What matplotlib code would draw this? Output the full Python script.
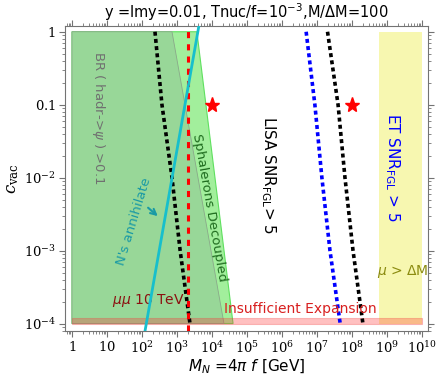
import matplotlib
matplotlib.use("Agg")
import matplotlib.pyplot as plt
from matplotlib.ticker import LogLocator, NullFormatter

# --- data ---
# excluded regions (corners in M_N [GeV], c_vac)
hadr_M = [1, 720, 2.2e4, 1]
hadr_c = [1, 1, 1e-4, 1e-4]
sphal_M = [1, 3700, 4.0e4, 1]
sphal_c = [1, 1, 1e-4, 1e-4]
et_M = [5.9e8, 1e10]
et_c = [1e-4, 1]
insuff_M = [1, 1e10]
insuff_c = [1e-4, 1.2e-4]

# curves
curve_c = [1, 0.1, 0.01, 1e-3, 1e-4]
lisa_black_M = [235, 372, 720, 1230, 2350]
lisa_blue_M = [4.9e6, 8.7e6, 1.38e7, 2.35e7, 4.6e7]
et_black_M = [2.0e7, 4.0e7, 6.3e7, 1.07e8, 2.05e8]
annihilate_M = [100, 5000]
annihilate_c = [4.6e-5, 1.9]
mumu_M = 2050

# benchmark points
star_M = [1e4, 1e8]
star_c = [0.1, 0.1]

xticks = [10.0**k for k in range(11)]
xticklabels = ['$1$', '$10$'] + ['$10^{%d}$' % k for k in range(2, 11)]
yticks = [1e-4, 1e-3, 1e-2, 0.1, 1]
yticklabels = ['$10^{-4}$', '$10^{-3}$', '$10^{-2}$', '$0.1$', '$1$']

fig = plt.figure(figsize=(4.36, 3.82), dpi=100)
ax = fig.add_axes([0.149, 0.1335, 0.833, 0.7985])
ax.set_xscale('log')
ax.set_yscale('log')

ax.fill(sphal_M, sphal_c, color='#a2ef9c', ec='#5fe05f', lw=0.8, zorder=1)
ax.fill(hadr_M, hadr_c, color='#98d798', ec='#8aa88a', lw=0.6, zorder=2)
ax.fill_between(et_M, et_c[0], et_c[1], color='#f7f7b0', lw=0, zorder=1)
ax.fill_between(insuff_M, insuff_c[0], insuff_c[1], color='#ff3030', alpha=0.3,
                ec='#f04040', lw=0.8, zorder=3)

dots = (1.1, 0.9)
ax.plot(lisa_black_M, curve_c, color='black', ls=(0, dots), lw=2.6, zorder=5)
ax.plot(et_black_M, curve_c, color='black', ls=(0, dots), lw=2.6, zorder=5)
ax.plot(lisa_blue_M, curve_c, color='blue', ls=(0, dots), lw=2.6, zorder=5)
ax.axvline(mumu_M, color='red', ls='--', lw=2.2, dashes=(2, 2), zorder=5)
ax.plot(annihilate_M, annihilate_c, color='#17bfcc', lw=2, zorder=6)
ax.plot(star_M, star_c, ls='none', marker='*', ms=11, color='red', zorder=7)

ax.annotate('', xy=(325, 2.8e-3), xytext=(130, 4.1e-3),
            arrowprops=dict(arrowstyle='->', color='#1a9aa5', lw=1.5))

ax.text(5.9, 0.066, r'BR ( hadr->$\psi$ ) >0.1', rotation=-90, color='#707070',
        fontsize=9.5, ha='center', va='center')
ax.text(8200, 3.9e-3, 'Sphalerons Decoupled', rotation=-80, color='#1e6b1e',
        fontsize=9.5, ha='center', va='center')
ax.text(59, 2.5e-3, "N's annihilate", rotation=73, color='#1a9aa5',
        fontsize=9.5, ha='center', va='center')
ax.text(4e5, 0.011, r'LISA SNR$_{\rm FGL}$> 5', rotation=-90, color='black',
        fontsize=11, ha='center', va='center')
ax.text(1.4e9, 0.0138, r'ET SNR$_{\rm FGL}$ > 5', rotation=-90, color='blue',
        fontsize=11, ha='center', va='center')
ax.text(1700, 2.1e-4, r'$\mu\mu$ 10 TeV', color='#8b1010', fontsize=10,
        ha='right', va='center')
ax.text(3.3e6, 1.6e-4, 'Insufficient Expansion', color='#d82020', fontsize=10,
        ha='center', va='center', zorder=8)
ax.text(2.9e9, 5.1e-4, r'$\mu$ > $\Delta$M', color='#8b8b10', fontsize=10,
        ha='center', va='center')

ax.set_xlim(0.63, 1.5e10)
ax.set_ylim(7.9e-5, 1.2)
ax.set_xticks(xticks, xticklabels)
ax.set_yticks(yticks, yticklabels)
for lab in ax.get_xticklabels() + ax.get_yticklabels():
    lab.set_math_fontfamily('dejavuserif')
    lab.set_fontsize(9.5)
ax.xaxis.set_minor_locator(LogLocator(subs=range(2, 10), numticks=100))
ax.yaxis.set_minor_locator(LogLocator(subs=range(2, 10), numticks=100))
ax.xaxis.set_minor_formatter(NullFormatter())
ax.yaxis.set_minor_formatter(NullFormatter())
ax.tick_params(which='both', direction='out', top=True, right=True, color='0.45')
ax.tick_params(which='major', length=4, pad=2.5)
ax.tick_params(which='minor', length=2)
for sp in ax.spines.values():
    sp.set_color('0.45')

ax.set_xlabel(r'$M_N$ =4$\pi$ $f$ [GeV]', fontsize=11, labelpad=1)
yl = ax.set_ylabel(r'$c_{\rm vac}$', fontsize=12, labelpad=2)
yl.set_math_fontfamily('dejavuserif')
ax.set_title(r'y =Imy=0.01, Tnuc/f=10$^{-3}$,M/$\Delta$M=100', fontsize=10.5)

fig.savefig('out.png', dpi=100)
